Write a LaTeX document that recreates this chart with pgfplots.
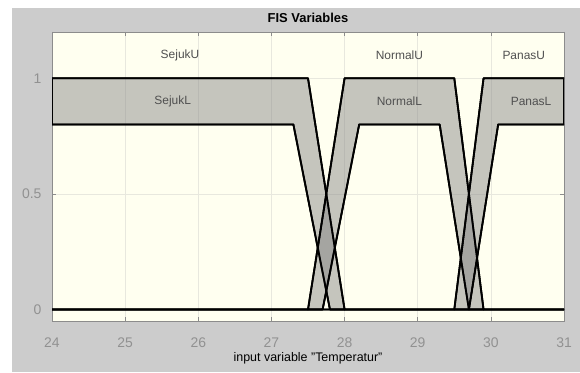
\documentclass[border=0pt]{standalone}
\usepackage{pgfplots}
\pgfplotsset{compat=1.18}
\usepackage{fontspec}
\setmainfont{Liberation Sans}
\definecolor{figbg}{RGB}{204,204,204}
\definecolor{axbg}{RGB}{255,255,240}
\definecolor{tickgray}{RGB}{145,145,145}
\definecolor{framegray}{RGB}{140,140,140}
\definecolor{gridc}{RGB}{232,232,222}
\definecolor{labgray}{RGB}{80,80,80}
\definecolor{foufill}{RGB}{128,128,128}
\begin{document}
\begin{tikzpicture}[x=1bp,y=1bp]
\fill[white] (0,0) rectangle (580,372);
\fill[figbg] (12,0) rectangle (580,364);
\begin{axis}[
  at={(52bp,51bp)}, anchor=south west,
  width=512bp, height=289bp, scale only axis,
  xmin=24, xmax=31, ymin=-0.05, ymax=1.2,
  xtick={24,25,26,27,28,29,30,31},
  ytick={0,0.5,1}, yticklabels={0,0.5,1},
  axis background/.style={fill=axbg},
  axis line style={framegray, line width=0.8bp},
  tick style={framegray, line width=0.6bp},
  tick align=inside, major tick length=4bp,
  grid=major, grid style={gridc, line width=0.6bp},
  ticklabel style={font=\fontsize{14}{14}\selectfont, text=tickgray},
  xticklabel style={yshift=-13bp},
  yticklabel style={xshift=-7bp},
  /pgf/number format/assume math mode=true,
  title={FIS Variables},
  title style={font=\fontsize{13}{13}\selectfont\bfseries, at={(axis description cs:0.5,1)}, anchor=center, yshift=8bp},
  xlabel={input variable "Temperatur"},
  xlabel style={font=\fontsize{12.5}{12.5}\selectfont, at={(axis description cs:0.5,0)}, anchor=center, yshift=-37bp},
  every axis plot/.append style={line join=round},
]
% footprints of uncertainty
\addplot[draw=black, line width=1.8bp, fill=foufill, fill opacity=0.45]
  coordinates {(24,1) (27.5,1) (28,0) (27.8,0) (27.3,0.8) (24,0.8)} -- cycle;
\addplot[draw=black, line width=1.8bp, fill=foufill, fill opacity=0.45]
  coordinates {(27.5,0) (28,1) (29.5,1) (29.9,0) (29.7,0) (29.3,0.8) (28.2,0.8) (27.7,0)} -- cycle;
\addplot[draw=black, line width=1.8bp, fill=foufill, fill opacity=0.45]
  coordinates {(29.5,0) (29.9,1) (31,1) (31,0.8) (30.1,0.8) (29.7,0)} -- cycle;
% upper and lower membership functions
\addplot[black, line width=1.8bp] coordinates {(24,1) (27.5,1) (28,0) (31,0)};
\addplot[black, line width=1.8bp] coordinates {(24,0.8) (27.3,0.8) (27.8,0) (31,0)};
\addplot[black, line width=1.8bp] coordinates {(24,0) (27.5,0) (28,1) (29.5,1) (29.9,0) (31,0)};
\addplot[black, line width=1.8bp] coordinates {(24,0) (27.7,0) (28.2,0.8) (29.3,0.8) (29.7,0) (31,0)};
\addplot[black, line width=1.8bp] coordinates {(24,0) (29.5,0) (29.9,1) (31,1)};
\addplot[black, line width=1.8bp] coordinates {(24,0) (29.7,0) (30.1,0.8) (31,0.8)};
% labels
\node[text=labgray, font=\fontsize{12}{12}\selectfont] at (axis cs:25.75,1.1) {SejukU};
\node[text=labgray, font=\fontsize{12}{12}\selectfont] at (axis cs:28.75,1.1) {NormalU};
\node[text=labgray, font=\fontsize{12}{12}\selectfont] at (axis cs:30.45,1.1) {PanasU};
\node[text=labgray, font=\fontsize{12}{12}\selectfont] at (axis cs:25.65,0.9) {SejukL};
\node[text=labgray, font=\fontsize{12}{12}\selectfont] at (axis cs:28.75,0.9) {NormalL};
\node[text=labgray, font=\fontsize{12}{12}\selectfont] at (axis cs:30.55,0.9) {PanasL};
\end{axis}
\end{tikzpicture}
\end{document}
